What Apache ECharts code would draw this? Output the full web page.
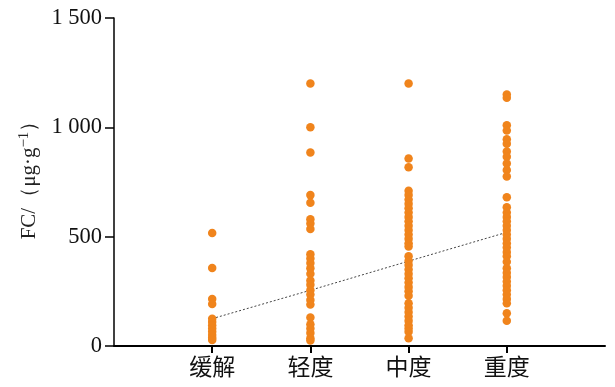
<!DOCTYPE html>
<html><head><meta charset="utf-8">
<script src="https://cdn.jsdelivr.net/npm/echarts@6/dist/echarts.min.js"></script>
<style>html,body{margin:0;padding:0;background:#fff}#c{width:615px;height:387px}</style>
</head><body><div id="c"></div>
<script>
var categories = ['', '缓解', '轻度', '中度', '重度', ''];
var yTicks = [0, 500, 1000, 1500];
var remission = [517, 357, 215, 192, 125, 110, 95, 80, 65, 50, 38, 28];
var mild = [1200, 1000, 885, 690, 655, 580, 560, 535, 420, 400, 380, 355, 330, 300, 280, 255, 235, 210, 190, 130, 100, 80, 60, 35, 25];
var moderate = [1200, 858, 817, 710, 690, 670, 650, 630, 610, 590, 570, 550, 530, 510, 490, 470, 455, 410, 390, 370, 350, 330, 310, 290, 270, 250, 230, 195, 175, 155, 135, 115, 95, 80, 65, 35];
var severe = [1150, 1135, 1010, 985, 945, 925, 890, 865, 835, 805, 775, 680, 635, 610, 590, 570, 550, 530, 510, 490, 470, 450, 430, 410, 385, 355, 335, 315, 295, 275, 255, 235, 215, 195, 150, 115];
var trend = [125, 255, 388, 520];

var groups = [remission, mild, moderate, severe];
var pts = [];
groups.forEach(function (g, i) { g.forEach(function (v) { pts.push([categories[i + 1], v]); }); });
var trendData = trend.map(function (v, i) { return [categories[i + 1], v]; });

var chart = echarts.init(document.getElementById('c'));
chart.setOption({
  animation: false,
  grid: { left: 114, right: 10, top: 18, bottom: 41 },
  xAxis: {
    type: 'category', data: categories, boundaryGap: false,
    axisLine: { lineStyle: { color: '#000', width: 2 } },
    axisTick: { length: 7, lineStyle: { color: '#000', width: 2 },
      interval: function (i) { return i > 0 && i < categories.length - 1; } },
    axisLabel: { interval: 0, margin: 9, color: '#111', fontSize: 23,
      fontFamily: 'Noto Sans CJK SC' },
    splitLine: { show: false }
  },
  yAxis: {
    type: 'value', min: 0, max: 1500, interval: 500,
    name: 'FC/（μg·g{sup|−1}）', nameLocation: 'middle', nameGap: 72, nameRotate: 90,
    nameTextStyle: { color: '#222', fontSize: 21, fontFamily: 'Liberation Serif', padding: [0, 0, 0, 14],
      rich: { sup: { fontSize: 15, fontFamily: 'Liberation Serif', color: '#222', padding: [0, 0, 10, 0] } } },
    axisLine: { show: true, lineStyle: { color: '#000', width: 1.5 } },
    axisTick: { show: true, length: 9, lineStyle: { color: '#000', width: 1.5 } },
    axisLabel: { margin: 12, color: '#111', fontSize: 22.5, fontFamily: 'Liberation Serif',
      formatter: function (v) { return v >= 1000 ? Math.floor(v / 1000) + ' ' + String(v % 1000).padStart(3, '0') : String(v); } },
    splitLine: { show: false }
  },
  series: [
    { type: 'line', data: trendData, symbol: 'none', z: 1,
      lineStyle: { color: '#444', width: 1, type: [2, 2] } },
    { type: 'scatter', data: pts, symbolSize: 8.5, z: 2,
      itemStyle: { color: '#F0841C', opacity: 1 } }
  ]
});
</script></body></html>
